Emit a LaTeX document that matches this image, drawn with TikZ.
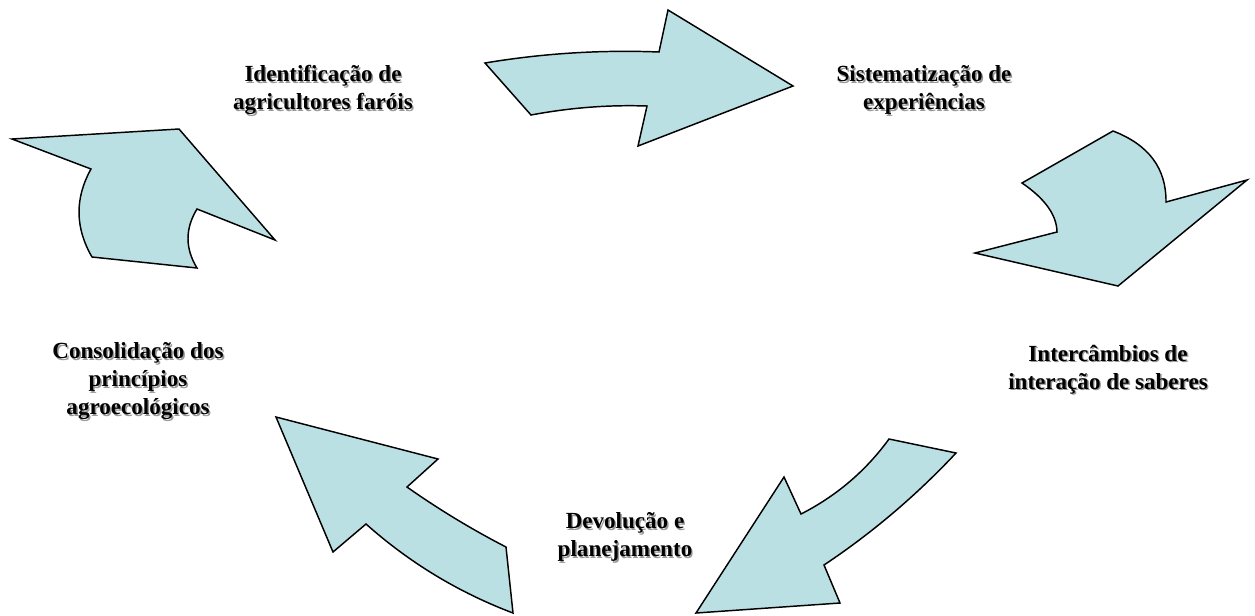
\documentclass[tikz,border=0pt]{standalone}
\usepackage{fontspec}
\setmainfont{Liberation Serif}
\definecolor{arrowfill}{HTML}{BBE0E3}
\newcommand\shd[1]{\makebox[0pt][l]{\hspace{1.1pt}\raisebox{-1.1pt}{\textcolor{black!40}{#1}}}#1}
\tikzset{
  bigarrow/.style={fill=arrowfill, draw=black, line width=1.1pt, line join=miter},
  lbl/.style={font=\bfseries\fontsize{17.3}{21}\selectfont, align=center, inner sep=0pt}
}
\begin{document}
\begin{tikzpicture}[x=0.75pt, y=-0.75pt]
\useasboundingbox (0,0) rectangle (1255,615);
% arrow 1 (top)
\draw[bigarrow] (485,63) .. controls (543,53.3) and (601,49.7) .. (659,52) -- (668,10) -- (793,86) -- (638,146) -- (647,106) .. controls (608,104.7) and (570,107.7) .. (531,115) -- cycle;
% arrow 2 (right top)
\draw[bigarrow] (1113,131) -- (1022,183) .. controls (1045,198.7) and (1056.7,215) .. (1057,232) -- (975,253) -- (1118,286) -- (1247,180) -- (1166,202) .. controls (1166.3,168.3) and (1148.7,144.7) .. (1113,131) -- cycle;
% arrow 3 (bottom right)
\draw[bigarrow] (889,439) -- (956,453) .. controls (916,495.7) and (872,533) .. (824,565) -- (840,603) -- (696,613) -- (784,477) -- (801,514) .. controls (836.3,496) and (865.7,471) .. (889,439) -- cycle;
% arrow 4 (bottom left)
\draw[bigarrow] (276,417) -- (438,459) -- (407,487) .. controls (438.7,509.3) and (471.7,529.3) .. (506,547) -- (513,613) .. controls (458.5,592.4) and (409.5,562.7) .. (366,524) -- (333,552) -- cycle;
% arrow 5 (left top)
\draw[bigarrow] (12,139) -- (179,129) -- (275,240) -- (197,209) .. controls (185,228.7) and (185,248.3) .. (197,268) -- (92,257) .. controls (75,227.7) and (74.7,198.3) .. (91,169) -- cycle;
% labels
\node[lbl] (ident) at (323,91) {\shd{Identificação de}\\\shd{agricultores faróis}};
\node[lbl] (sist) at (924,91) {\shd{Sistematização de}\\\shd{experiências}};
\node[lbl] (inter) at (1108,370) {\shd{Intercâmbios de}\\\shd{interação de saberes}};
\node[lbl] (devol) at (625,538) {\shd{Devolução e}\\\shd{planejamento}};
\node[lbl] (cons) at (138,382) {\shd{Consolidação dos}\\\shd{princípios}\\\shd{agroecológicos}};
\end{tikzpicture}
\end{document}
